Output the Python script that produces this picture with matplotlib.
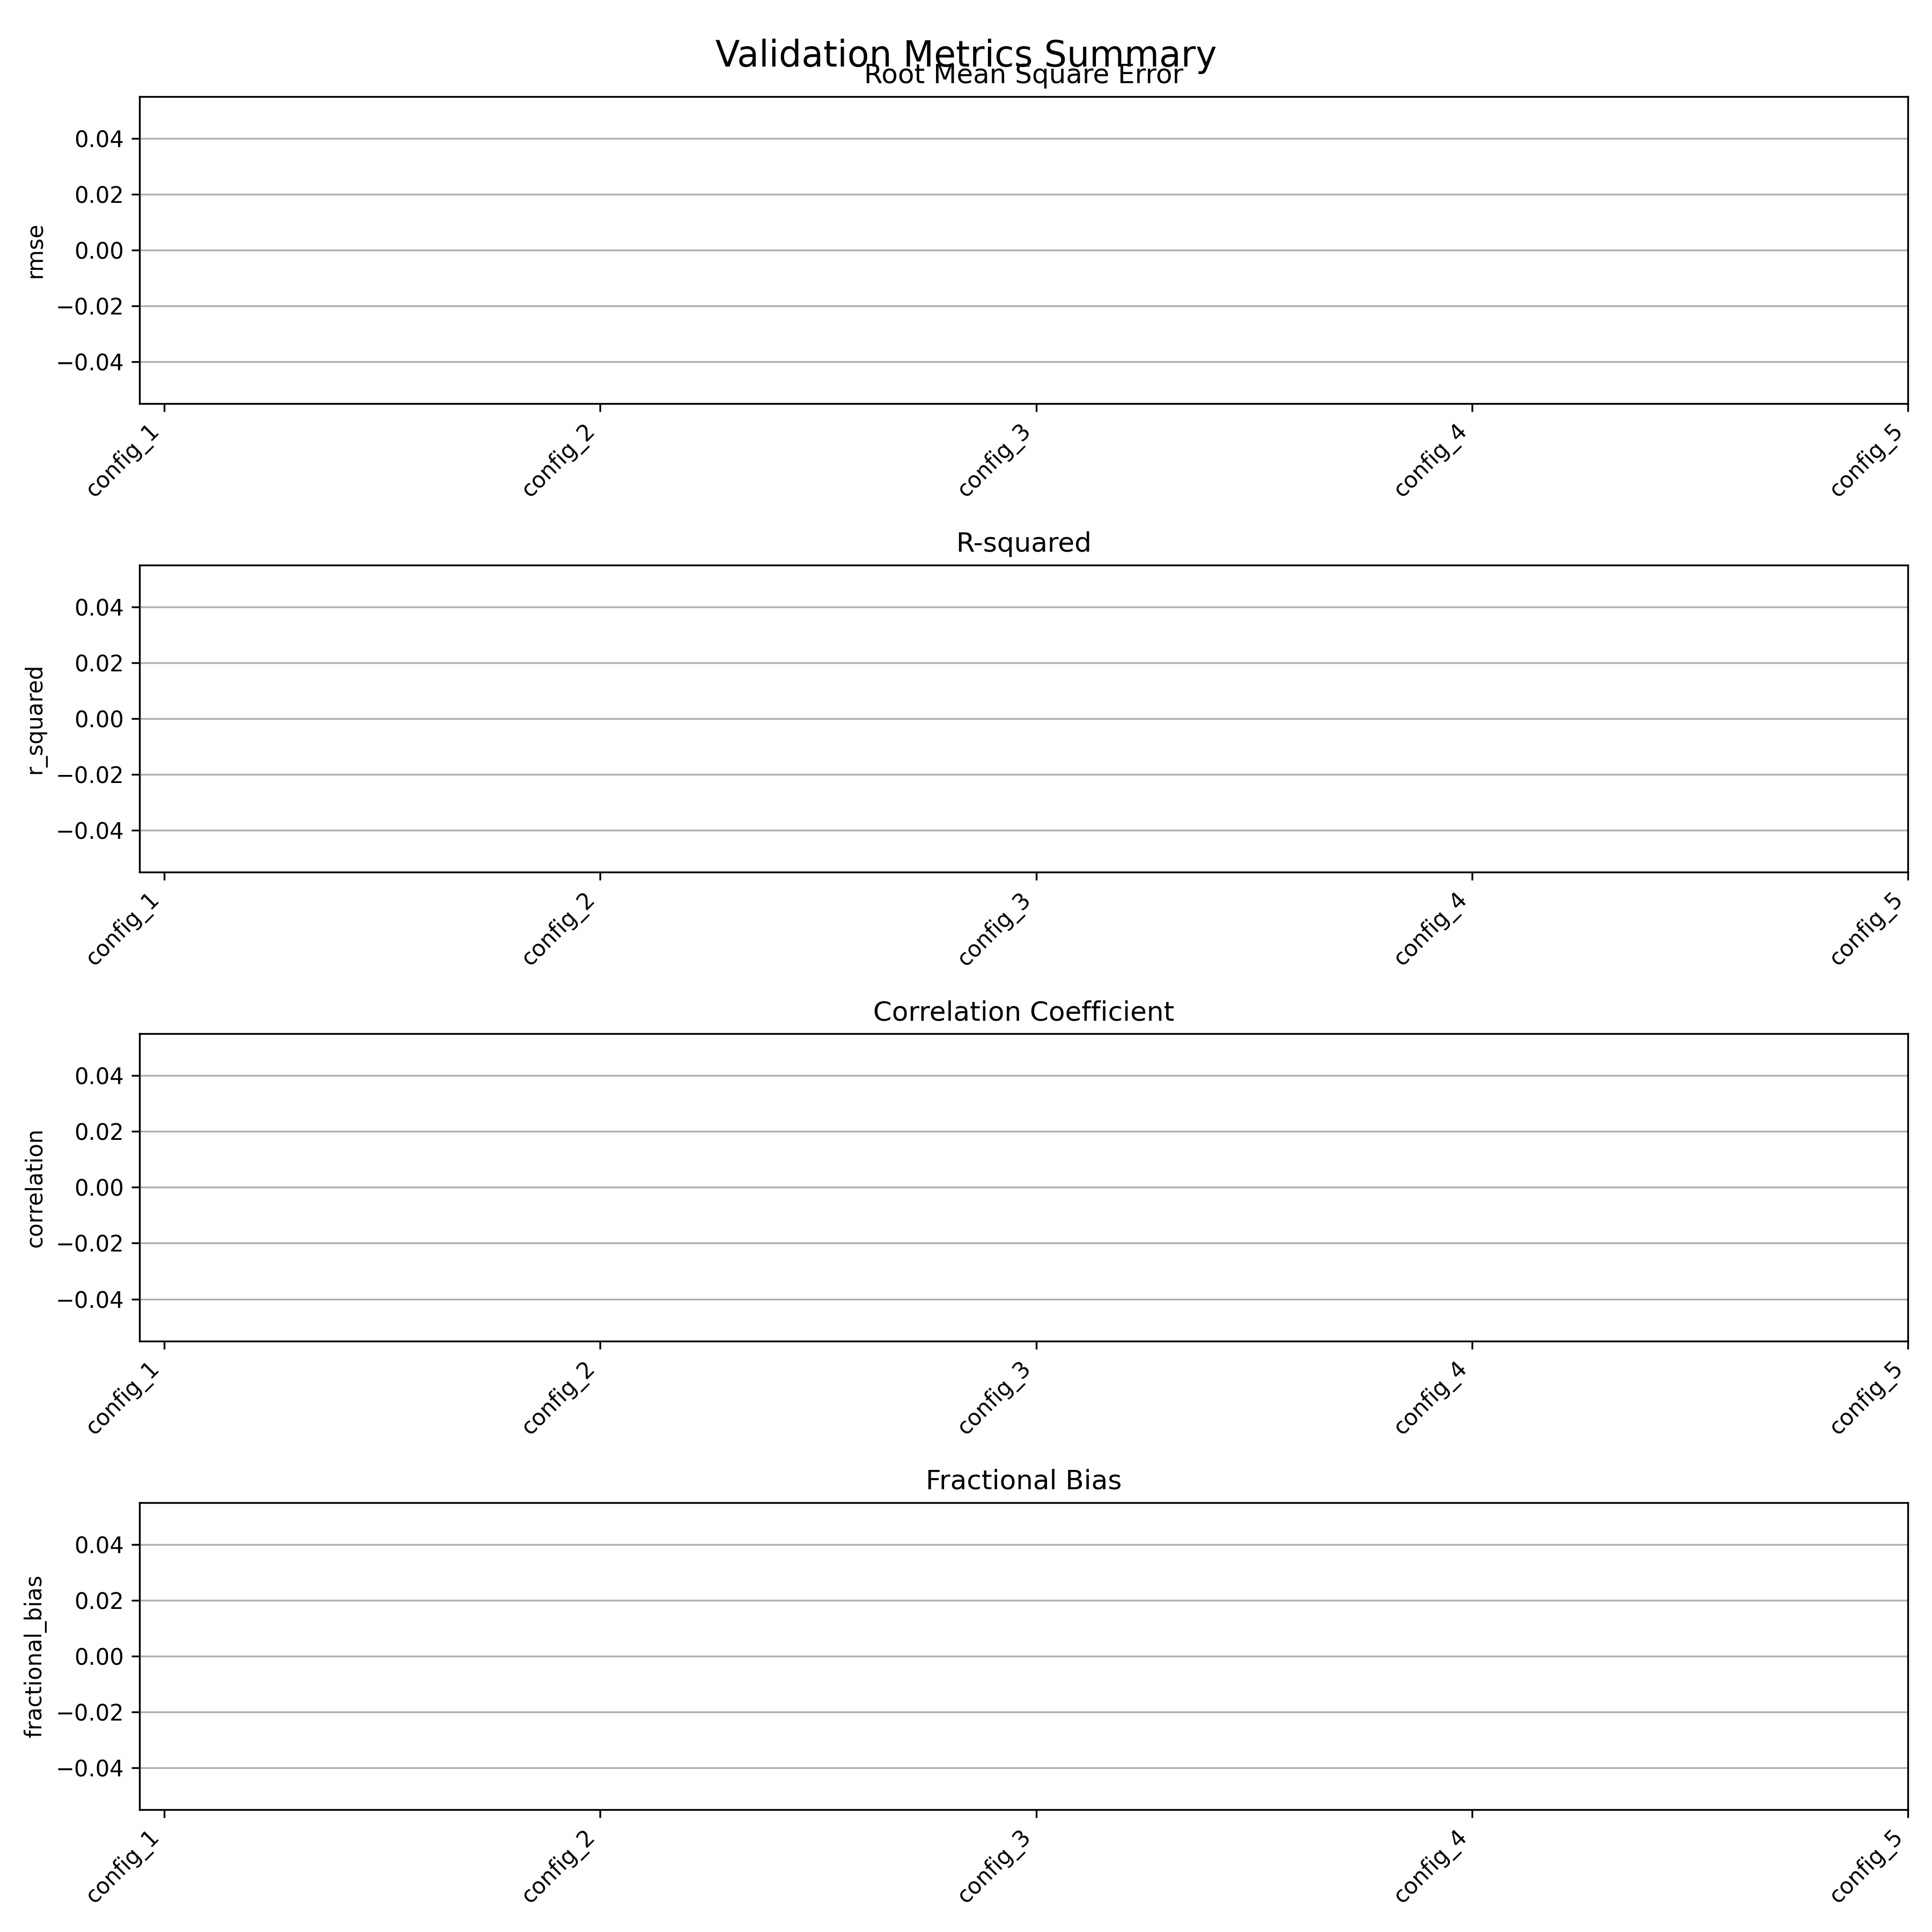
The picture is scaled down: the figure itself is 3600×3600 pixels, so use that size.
import matplotlib
matplotlib.use("Agg")
import matplotlib.pyplot as plt
import numpy as np

configs = ["config_1", "config_2", "config_3", "config_4", "config_5"]
metrics = ["rmse", "r_squared", "correlation", "fractional_bias"]
titles = ["Root Mean Square Error", "R-squared", "Correlation Coefficient", "Fractional Bias"]

# no valid values were computed for any config
rmse = [np.nan] * 5
r_squared = [np.nan] * 5
correlation = [np.nan] * 5
fractional_bias = [np.nan] * 5
values = [rmse, r_squared, correlation, fractional_bias]

fig, axes = plt.subplots(4, 1, figsize=(12, 12))

x = np.arange(len(configs))
for ax, metric, title, vals in zip(axes, metrics, titles, values):
    ax.bar(x, vals)
    ax.set_title(title)
    ax.set_ylabel(metric)
    ax.set_xticks(x)
    ax.set_xticklabels(configs, rotation=45, ha="right")
    ax.set_xlim(-0.057, len(configs) - 1)
    ax.set_ylim(-0.055, 0.055)
    ax.grid(True, axis="y")

plt.tight_layout()
fig.suptitle("Validation Metrics Summary", fontsize=16)
plt.subplots_adjust(top=0.95, hspace=0.526)
plt.savefig("out.png", dpi=300)
